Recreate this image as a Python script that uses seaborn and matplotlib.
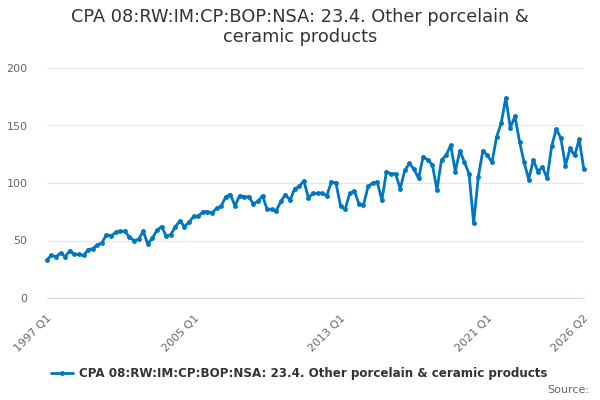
import matplotlib
matplotlib.use('Agg')
import numpy as np
import pandas as pd
import matplotlib.pyplot as plt
import seaborn as sns

# Quarterly values, 1997 Q1 .. 2026 Q2
values = [
    33, 37, 36, 39, 36, 41, 38, 38, 37, 42, 43, 46, 48, 55, 54, 57,
    58, 58, 53, 50, 51, 58, 47, 52, 59, 62, 54, 55, 62, 67, 62, 66,
    71, 71, 75, 75, 74, 78, 80, 88, 90, 80, 89, 88, 88, 82, 84, 89,
    77, 77, 76, 84, 90, 85, 95, 97, 102, 87, 91, 91, 91, 89, 101, 100,
    80, 77, 91, 93, 82, 81, 97, 100, 101, 85, 110, 108, 108, 95, 111, 117,
    112, 104, 123, 120, 116, 94, 120, 124, 133, 110, 128, 118, 108, 65, 105, 128,
    124, 118, 140, 152, 174, 148, 158, 136, 118, 103, 120, 110, 114, 104, 132, 147,
    139, 115, 130, 124, 138, 112,
]
quarters = [f"{1997 + i // 4} Q{i % 4 + 1}" for i in range(len(values))]
label_quarters = ["1997 Q1", "2005 Q1", "2013 Q1", "2021 Q1", "2026 Q2"]
y_ticks = [0, 50, 100, 150, 200]

series_name = "CPA 08:RW:IM:CP:BOP:NSA: 23.4. Other porcelain & ceramic products"
title = "CPA 08:RW:IM:CP:BOP:NSA: 23.4. Other porcelain &\nceramic products"

df = pd.DataFrame({"idx": np.arange(len(values)), "value": values, "quarter": quarters})

sns.set_style("white")
plt.rcParams['font.family'] = ['DejaVu Sans']

fig = plt.figure(figsize=(6, 4), dpi=100)
ax = fig.add_axes([0.078, 0.255, 0.895, 0.575])

line_color = "#0077c0"
sns.lineplot(data=df, x="idx", y="value", ax=ax, color=line_color, linewidth=2,
             marker="o", markersize=3.5, markeredgewidth=0, label=series_name)

ax.set_ylim(0, 200)
ax.set_xlim(0, len(values) - 1)
ax.set_yticks(y_ticks)
ax.set_yticklabels([str(t) for t in y_ticks], color="#666666", fontsize=8)
ax.yaxis.grid(True, color="#e6e6e6", linewidth=0.9)
ax.set_axisbelow(True)
ax.tick_params(axis='y', length=0, pad=14)

# x ticks: marks every 2 years, labels at selected quarters
minor_pos = list(range(0, len(values), 8)) + [len(values) - 1]
ax.set_xticks(minor_pos, minor=True)
label_pos = [quarters.index(q) for q in label_quarters]
ax.set_xticks(label_pos)
ax.set_xticklabels(label_quarters, rotation=45, ha="right", rotation_mode="anchor",
                   color="#666666", fontsize=8)
ax.tick_params(axis='x', which='both', length=8, color="#ccd6eb", direction="out", pad=3)

for s in ["top", "right", "left"]:
    ax.spines[s].set_visible(False)
ax.spines["bottom"].set_color("#ccd6eb")
ax.set_xlabel("")
ax.set_ylabel("")

for ln in ax.lines:
    ln.set_clip_on(False)

fig.text(0.5, 0.98, title, ha="center", va="top", fontsize=12.8, color="#333333",
         linespacing=1.15)

leg = ax.legend(loc="upper center", bbox_to_anchor=(0.47, -0.255), frameon=False,
                fontsize=8.6, handlelength=1.8, handletextpad=0.5)
for t in leg.get_texts():
    t.set_color("#333333")
    t.set_fontweight("bold")

fig.text(0.982, 0.012, "Source:", ha="right", va="bottom", fontsize=8, color="#666666")

fig.savefig("out.png", dpi=100)
